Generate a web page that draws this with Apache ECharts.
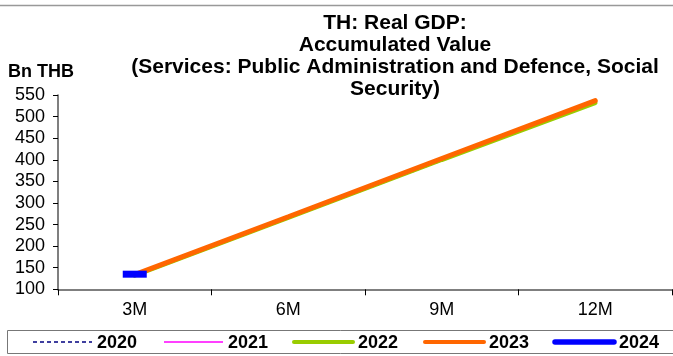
<!DOCTYPE html>
<html>
<head>
<meta charset="utf-8">
<script src="https://cdn.jsdelivr.net/npm/echarts@6/dist/echarts.min.js"></script>
<style>
html,body{margin:0;padding:0;background:#fff;}
#c{width:673px;height:356px;}
</style>
</head>
<body>
<div id="c"></div>
<script>
var categories = ['3M', '6M', '9M', '12M'];
var s2020 = [131, 264, 398, 530];
var s2021 = [132, 265, 399, 531];
var s2022 = [132, 266, 400, 532];
var s2023 = [134, 268, 403, 537];
var s2024 = [135];
var yTicks = [100, 150, 200, 250, 300, 350, 400, 450, 500, 550];

var FONT = 'Liberation Sans, Arial, sans-serif';
var chart = echarts.init(document.getElementById('c'), null, {renderer: 'canvas'});

var legendItems = [
  {name: '2020', color: '#000080', width: 1.5, type: [4, 3], x: 33},
  {name: '2021', color: '#FF00FF', width: 1.5, type: 'solid', x: 164},
  {name: '2022', color: '#99CC00', width: 4, type: 'solid', x: 294},
  {name: '2023', color: '#FF6600', width: 4, type: 'solid', x: 425},
  {name: '2024', color: '#0000FF', width: 5.5, type: 'solid', x: 555}
];
var graphics = [
  {type: 'line', shape: {x1: 0, y1: 5.5, x2: 673, y2: 5.5}, style: {stroke: '#999', lineWidth: 1.5}},
  {type: 'rect', shape: {x: 7.5, y: 330.5, width: 680, height: 23}, style: {fill: '#fff', stroke: '#777', lineWidth: 1}},
  {type: 'text', left: 8, top: 63, style: {text: 'Bn THB', font: 'bold 18px ' + FONT, fill: '#000'}}
];
legendItems.forEach(function (it) {
  graphics.push({type: 'line', shape: {x1: it.x, y1: 342, x2: it.x + 59, y2: 342},
    style: {stroke: it.color, lineWidth: it.width, lineDash: it.type === 'solid' ? null : it.type, lineCap: it.width > 3 ? 'round' : 'butt'}});
  graphics.push({type: 'text', x: it.x + 64, y: 343,
    style: {text: it.name, font: 'bold 18px ' + FONT, fill: '#000', textVerticalAlign: 'middle', verticalAlign: 'middle'}});
});

function lineSeries(name, data, color, width, dash) {
  return {
    name: name, type: 'line', data: data, symbol: 'none', silent: true,
    lineStyle: {color: color, width: width, type: dash, cap: 'round'},
    itemStyle: {color: color}
  };
}

chart.setOption({
  animation: false,
  backgroundColor: '#fff',
  title: {
    text: 'TH: Real GDP:\nAccumulated Value\n(Services: Public Administration and Defence, Social\nSecurity)',
    left: 395, top: 12, textAlign: 'center', padding: 0,
    textStyle: {fontFamily: FONT, fontSize: 21, fontWeight: 'bold', color: '#000', lineHeight: 22}
  },
  grid: {left: 58, right: 1, top: 95, bottom: 66.7, containLabel: false},
  xAxis: {
    type: 'category', data: categories, boundaryGap: true,
    axisLine: {lineStyle: {color: '#555', width: 1.5}},
    axisTick: {show: true, length: 6, inside: false, lineStyle: {color: '#000'}},
    axisLabel: {fontFamily: FONT, fontSize: 18, color: '#000', margin: 12}
  },
  yAxis: {
    type: 'value', min: 100, max: 550, interval: 50,
    axisLine: {show: true, lineStyle: {color: '#555', width: 1.5}},
    axisTick: {show: true, length: 5, lineStyle: {color: '#000'}},
    splitLine: {show: false},
    axisLabel: {fontFamily: FONT, fontSize: 18, color: '#000', margin: 13,
      formatter: function (v) { return yTicks.indexOf(v) >= 0 ? String(v) : ''; }}
  },
  series: [
    lineSeries('2020', s2020, '#000080', 1.5, [4, 3]),
    lineSeries('2021', s2021, '#FF00FF', 1.5, 'solid'),
    lineSeries('2022', s2022, '#99CC00', 4.5, 'solid'),
    lineSeries('2023', s2023, '#FF6600', 5, 'solid'),
    {
      name: '2024', type: 'line', data: s2024, silent: true,
      symbol: 'rect', symbolSize: [24, 7], showSymbol: true,
      itemStyle: {color: '#0000FF'},
      lineStyle: {color: '#0000FF', width: 5}
    }
  ],
  graphic: graphics
});
</script>
</body>
</html>
